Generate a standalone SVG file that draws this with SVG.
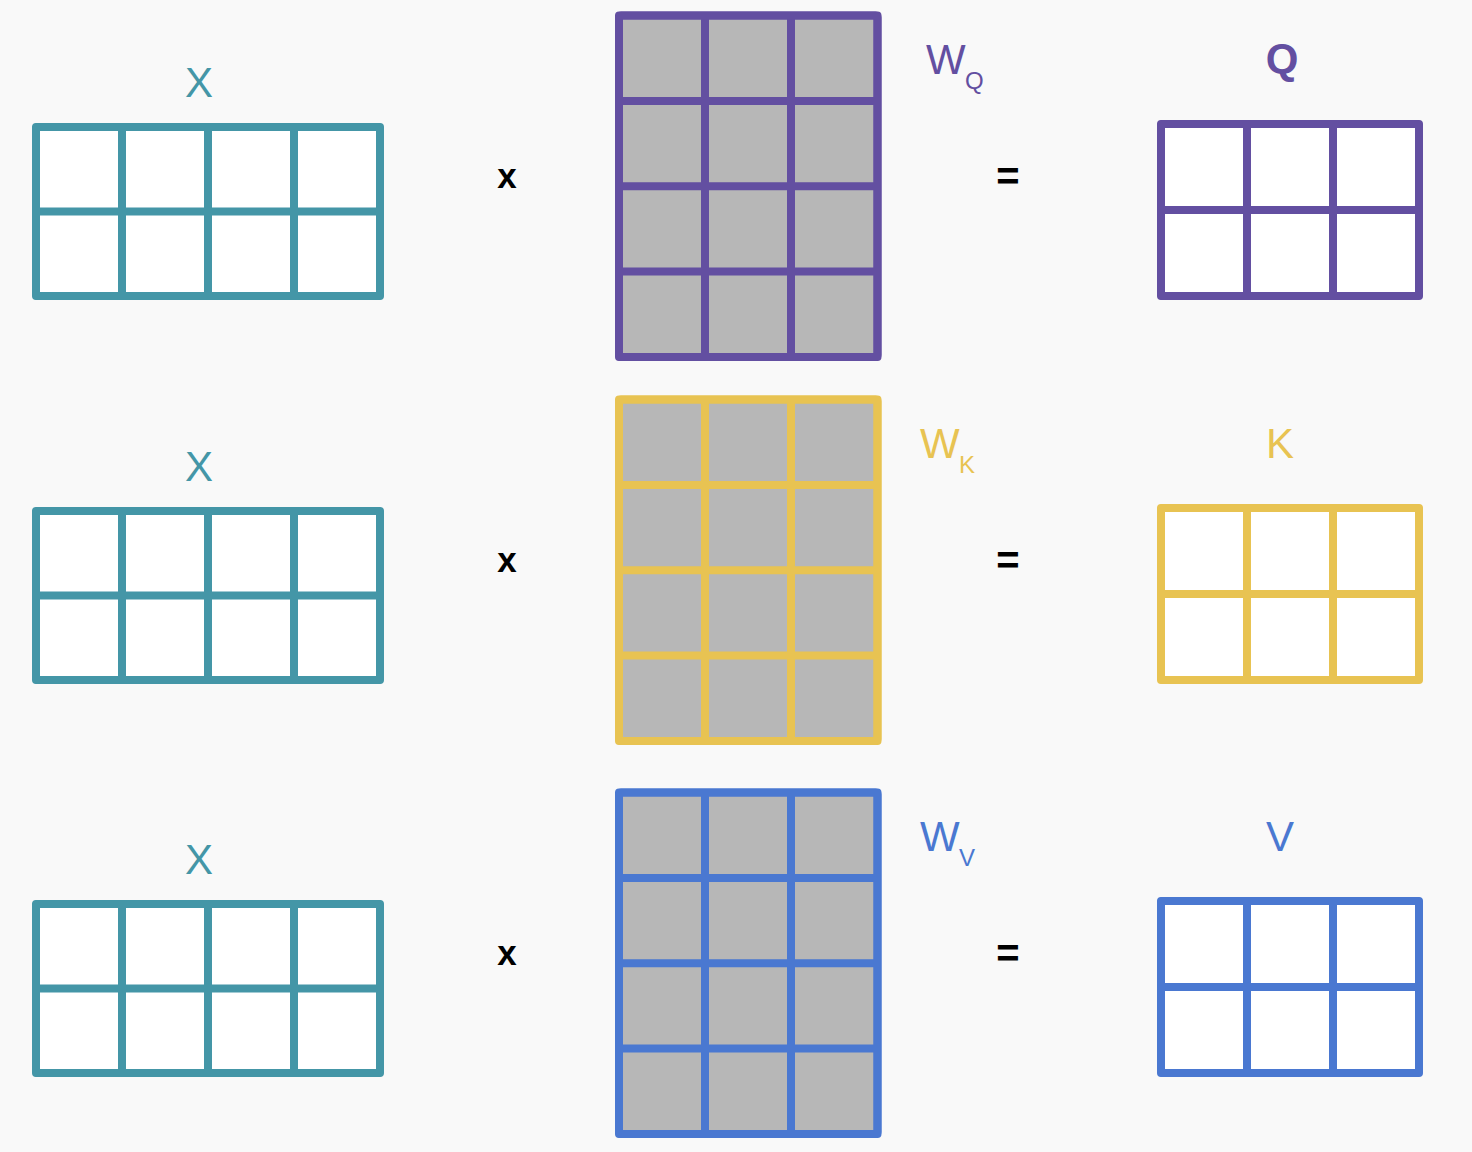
<svg xmlns="http://www.w3.org/2000/svg" width="1472" height="1152" viewBox="0 0 1472 1152">
<style>
.grid{stroke-width:8;stroke-linejoin:round;stroke-linecap:butt}
.wcell{fill:#ffffff}
.gcell{fill:#b7b7b7}
.teal{stroke:#4496a7}
.purple{stroke:#634fa1}
.yellow{stroke:#e8c352}
.blue{stroke:#4a78d1}
.lbl{font-family:"Liberation Sans",Arial,sans-serif;font-size:42px}
.sub{font-size:24px}
.op{font-family:"Liberation Sans",Arial,sans-serif;font-weight:bold;fill:#000000;text-anchor:middle}
</style>
<defs>
<g id="xmat">
<rect x="36" y="127" width="344" height="169" rx="2" class="wcell"/>
<path d="M36 127H380V296H36Z M122 127V296 M208 127V296 M294 127V296 M36 211.5H380"/>
</g>
<g id="wmat">
<rect x="619" y="15.5" width="258.5" height="341.5" rx="2" class="gcell"/>
<path d="M619 15.5H877.5V357H619Z M705 15.5V357 M791 15.5V357 M619 101H877.5 M619 186.3H877.5 M619 271.6H877.5"/>
</g>
<g id="omat">
<rect x="1161" y="124" width="258" height="172" rx="2" class="wcell"/>
<path d="M1161 124H1419V296H1161Z M1247 124V296 M1333 124V296 M1161 210H1419"/>
</g>
</defs>
<rect x="0" y="0" width="1472" height="1152" fill="#f9f9f9"/>

<!-- Row Q -->
<g id="row-q">
<g id="x-q"><use href="#xmat" class="grid teal" fill="none"/><text x="199" y="97" class="lbl" fill="#4496a7" text-anchor="middle">X</text></g>
<text id="times-q" x="507" y="187.5" class="op" font-size="35">x</text>
<g id="wq"><use href="#wmat" class="grid purple" fill="none"/><text x="926" y="73.5" class="lbl" fill="#634fa1">W<tspan class="sub" x="965" y="89">Q</tspan></text></g>
<text id="eq-q" x="1008" y="190" class="op" font-size="40">=</text>
<g id="q"><use href="#omat" class="grid purple" fill="none"/><text x="1282" y="73" class="lbl" fill="#634fa1" font-weight="bold" text-anchor="middle">Q</text></g>
</g>

<!-- Row K -->
<g id="row-k" transform="translate(0,384)">
<g id="x-k"><use href="#xmat" class="grid teal" fill="none"/><text x="199" y="97" class="lbl" fill="#4496a7" text-anchor="middle">X</text></g>
<text id="times-k" x="507" y="187.5" class="op" font-size="35">x</text>
<g id="wk"><use href="#wmat" class="grid yellow" fill="none"/><text x="920" y="74" class="lbl" fill="#e8c352">W<tspan class="sub" x="959" y="89">K</tspan></text></g>
<text id="eq-k" x="1008" y="190" class="op" font-size="40">=</text>
<g id="k"><use href="#omat" class="grid yellow" fill="none"/><text x="1280" y="74" class="lbl" fill="#e8c352" text-anchor="middle">K</text></g>
</g>

<!-- Row V -->
<g id="row-v" transform="translate(0,777)">
<g id="x-v"><use href="#xmat" class="grid teal" fill="none"/><text x="199" y="97" class="lbl" fill="#4496a7" text-anchor="middle">X</text></g>
<text id="times-v" x="507" y="187.5" class="op" font-size="35">x</text>
<g id="wv"><use href="#wmat" class="grid blue" fill="none"/><text x="920" y="73.5" class="lbl" fill="#4a78d1">W<tspan class="sub" x="959" y="89">V</tspan></text></g>
<text id="eq-v" x="1008" y="190" class="op" font-size="40">=</text>
<g id="v"><use href="#omat" class="grid blue" fill="none"/><text x="1280" y="73.5" class="lbl" fill="#4a78d1" text-anchor="middle">V</text></g>
</g>

<g id="connectors"/>
</svg>
